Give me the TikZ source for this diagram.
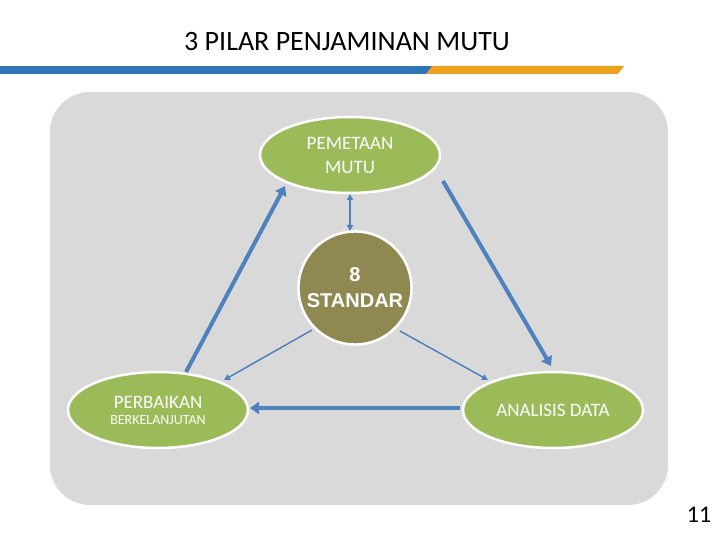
\documentclass[tikz,border=0pt]{standalone}
\usepackage{fontspec}
\setmainfont{Carlito}
\newfontfamily\arial{Liberation Sans}
\usetikzlibrary{arrows.meta,shapes.geometric}
\definecolor{gr}{RGB}{155,187,89}
\definecolor{ol}{RGB}{143,136,80}
\definecolor{bl}{RGB}{79,129,189}
\definecolor{bar1}{RGB}{46,117,182}
\definecolor{bar2}{RGB}{237,161,33}
\definecolor{bg}{RGB}{217,217,217}
\tikzset{
 ell/.style={ellipse, draw=white, line width=2.5pt, fill=gr, minimum width=180pt, minimum height=76pt, text=white, align=center, inner sep=0pt},
 thick arrow/.style={draw=bl, line width=4pt, -{Triangle[length=9pt,width=12pt]}},
 thin arrow/.style={draw=bl, line width=1.5pt, -{Triangle[length=6pt,width=6pt]}}
}
\begin{document}
\begin{tikzpicture}[x=1pt,y=-1pt]
\useasboundingbox (0,0) rectangle (720,540);
\node (title) at (347,42) {\fontsize{28}{32}\selectfont 3 PILAR PENJAMINAN MUTU};
\fill[bar1] (0,66) rectangle (432,74);
\fill[bar2] (432,66) -- (624,66) -- (618,74) -- (426,74) -- cycle;
\fill[bg, rounded corners=40pt] (50,92) rectangle (668,505);
\node[ell, font=\fontsize{19}{24}\selectfont] (top) at (350,155) {PEMETAAN\\MUTU};
\node[ell] (left) at (158,410) {\fontsize{19}{24}\selectfont PERBAIKAN\\[4pt] \fontsize{14}{17}\selectfont BERKELANJUTAN};
\node[ell, font=\fontsize{19}{24}\selectfont] (right) at (553,410) {ANALISIS DATA};
\node[circle, draw=white, line width=2.5pt, fill=ol, minimum size=110pt, text=white, align=center, font=\arial\bfseries\fontsize{20}{26}\selectfont] (std) at (355,288) {8\\STANDAR};
\draw[thick arrow] (186,372) -- (285,186);
\draw[thick arrow] (443,181) -- (551,366);
\draw[thick arrow] (460,408) -- (250,408);
\draw[thin arrow, {Triangle[length=6pt,width=6pt]}-{Triangle[length=6pt,width=6pt]}] (350,194) -- (350,231);
\draw[thin arrow] (312,330) -- (224,380);
\draw[thin arrow] (400,331) -- (488,380);
\node (num) at (699,515) {\fontsize{24}{28}\selectfont 11};
\end{tikzpicture}
\end{document}
